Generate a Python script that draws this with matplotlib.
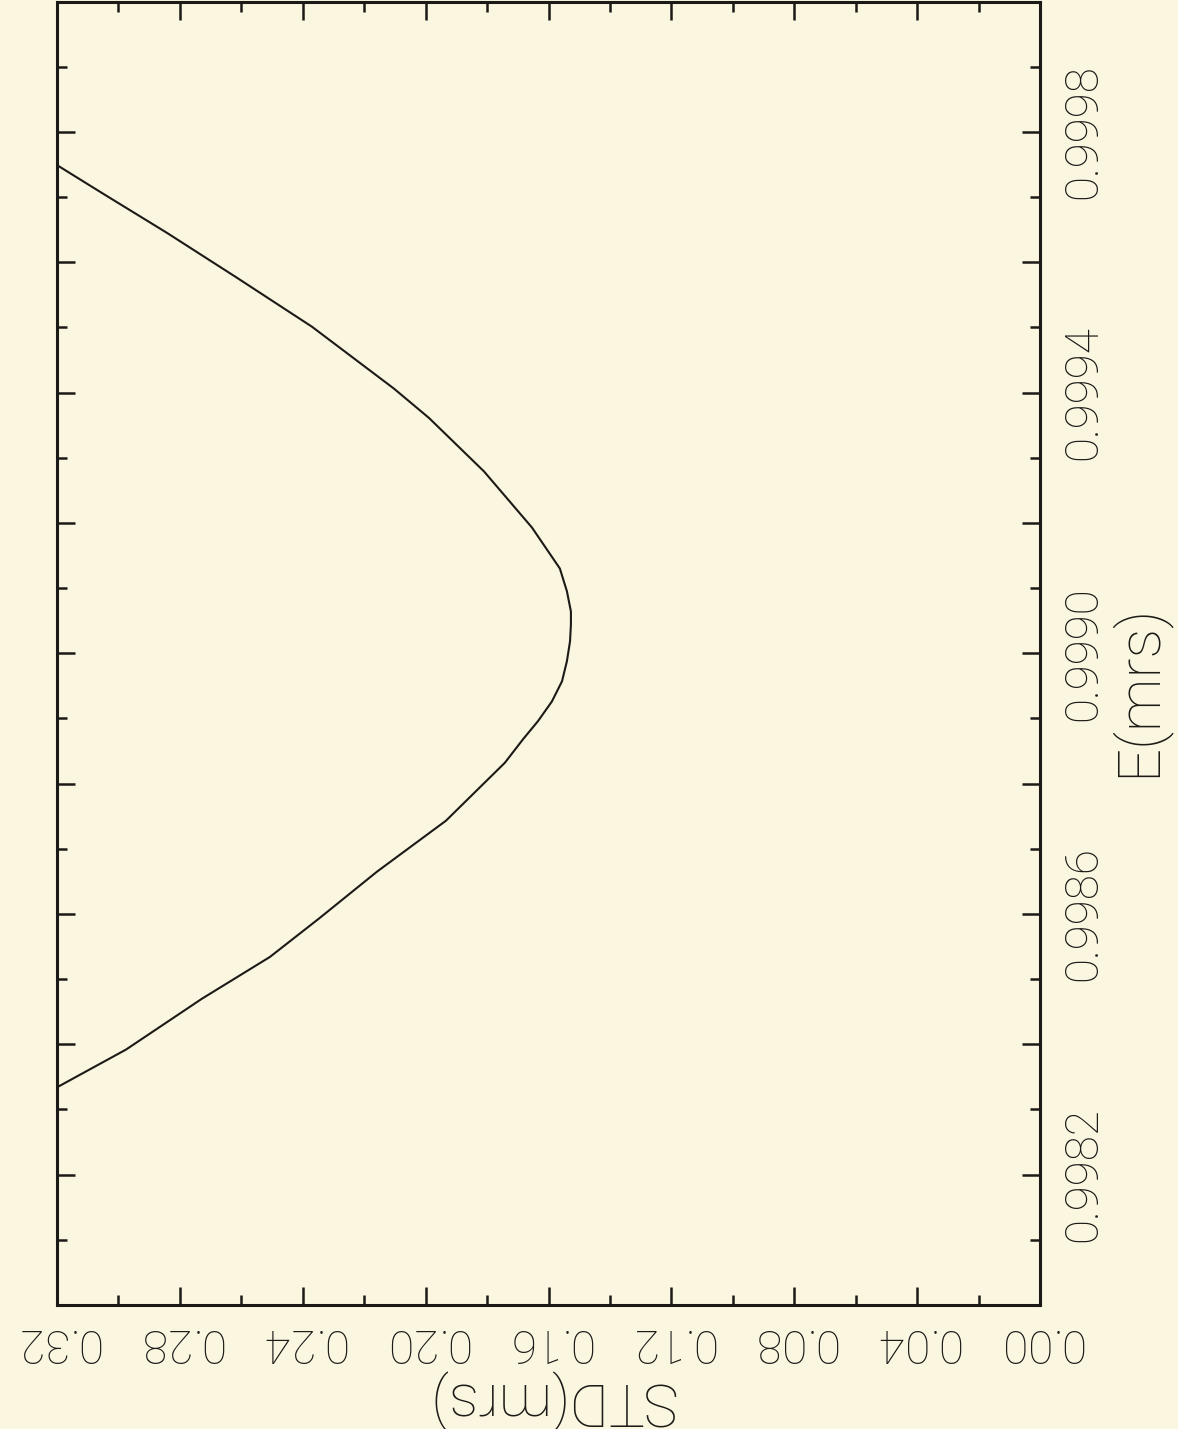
import numpy as np
import matplotlib
matplotlib.use('Agg')
import matplotlib.pyplot as plt
from matplotlib.ticker import MultipleLocator, FuncFormatter

# STD of the estimator against E, both in mrs (page is printed turned on its side)
e_vals = [0.999749, 0.999706, 0.999645, 0.999577, 0.999501, 0.999406, 0.999361,
          0.999279, 0.999193, 0.999130, 0.999095, 0.999064, 0.999044, 0.999018,
          0.998988, 0.998957, 0.998926, 0.998896, 0.998868, 0.998832, 0.998743,
          0.998665, 0.998593, 0.998534, 0.998470, 0.998392, 0.998334]
std_vals = [0.3200, 0.3053, 0.2842, 0.2617, 0.2370, 0.2103, 0.1989,
            0.1810, 0.1654, 0.1563, 0.1540, 0.1527, 0.1527, 0.1530,
            0.1540, 0.1556, 0.1589, 0.1634, 0.1683, 0.1742, 0.1934,
            0.2158, 0.2347, 0.2507, 0.2728, 0.2975, 0.3200]

bg = '#faf6e0'
ink = '#1c1a17'
W, H = 1178, 1429
font = ['Roboto', 'Liberation Sans', 'DejaVu Sans']

fig = plt.figure(figsize=(W / 100, H / 100), dpi=100, facecolor=bg)
ax = fig.add_axes([57 / W, 1 - 1305 / H, (1040 - 57) / W, (1305 - 1.5) / H])
ax.set_facecolor(bg)

ax.plot(std_vals, e_vals, color=ink, lw=1.5, solid_joinstyle='round')

ax.set_xlim(0.32, 0.0)
ax.set_ylim(0.9980, 1.0000)

ax.xaxis.set_major_locator(MultipleLocator(0.04))
ax.xaxis.set_minor_locator(MultipleLocator(0.02))
ax.yaxis.set_major_locator(MultipleLocator(0.0002))
ax.yaxis.set_minor_locator(MultipleLocator(0.0001))
ax.xaxis.set_major_formatter(FuncFormatter(lambda v, p: '%.2f' % abs(v)))


def e_fmt(v, pos):
    # label every other major tick: 0.9982, 0.9986, ...
    k = int(round((v - 0.9982) / 0.0002))
    return '%.4f' % v if k % 2 == 0 else ''


ax.yaxis.set_major_formatter(FuncFormatter(e_fmt))

for s in ax.spines.values():
    s.set_linewidth(2.2)
    s.set_color(ink)

ax.tick_params(which='both', direction='in', top=True, bottom=True,
               left=True, right=True, labelleft=False, labelright=True,
               color=ink, width=1.8)
ax.tick_params(which='major', length=13)
ax.tick_params(which='minor', length=7.5)

ax.tick_params(axis='x', labelrotation=180, pad=11)
ax.tick_params(axis='y', labelrotation=90, pad=15)
for lab in ax.get_xticklabels() + ax.get_yticklabels():
    lab.set_family(font)
    lab.set_fontweight('light')
    lab.set_fontsize(33)
    lab.set_color(ink)
for lab in ax.get_yticklabels():
    lab.set_va('center')

fig.text(550 / W, 1 - 1400 / H, 'STD(mrs)', rotation=180, ha='center', va='center',
         fontsize=43, family=font, fontweight='light', color=ink)
fig.text(1138 / W, 1 - 690 / H, 'E(mrs)', rotation=90, ha='center', va='center',
         fontsize=43, family=font, fontweight='light', color=ink)

fig.savefig('out.png', dpi=100, facecolor=bg)
